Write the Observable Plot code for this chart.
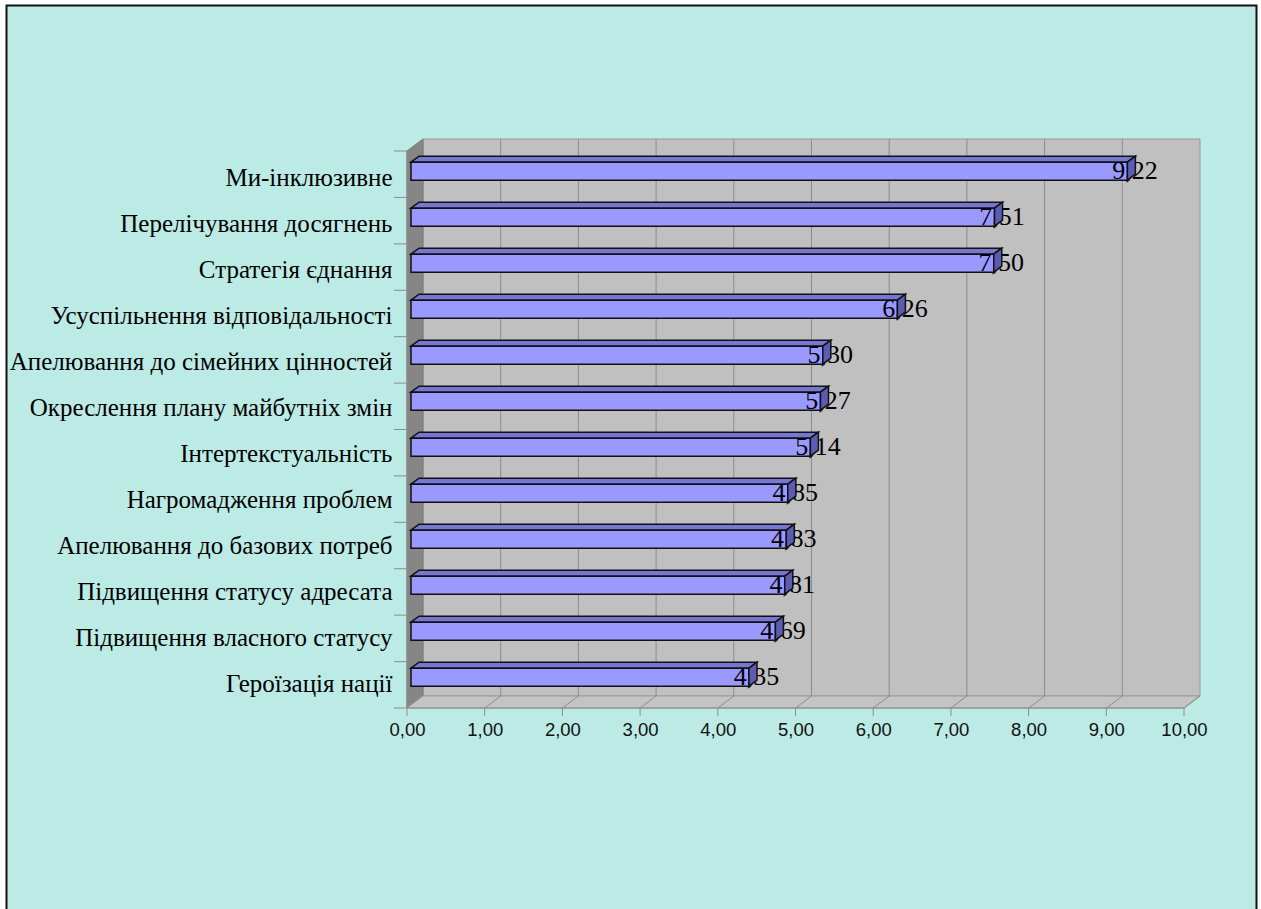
<!DOCTYPE html>
<html>
<head>
<meta charset="utf-8">
<script src="https://cdn.jsdelivr.net/npm/d3@7"></script>
<script src="https://cdn.jsdelivr.net/npm/@observablehq/plot@0.6"></script>
<style>
  html, body { margin: 0; padding: 0; background: #ffffff; }
  #chart svg { display: block; }
</style>
</head>
<body>
<div id="chart"></div>
<script>
const categories = [
  "Ми-інклюзивне",
  "Перелічування досягнень",
  "Стратегія єднання",
  "Усуспільнення відповідальності",
  "Апелювання до сімейних цінностей",
  "Окреслення плану майбутніх змін",
  "Інтертекстуальність",
  "Нагромадження проблем",
  "Апелювання до базових потреб",
  "Підвищення статусу адресата",
  "Підвищення власного статусу",
  "Героїзація нації"
];
const values = [9.22, 7.51, 7.50, 6.26, 5.30, 5.27, 5.14, 4.85, 4.83, 4.81, 4.69, 4.35];
const xTicks = [0, 1, 2, 3, 4, 5, 6, 7, 8, 9, 10];

const data = categories.map((c, i) => ({category: c, value: values[i]}));
const fmt = v => v.toFixed(2).replace(".", ",");

// depth offsets (pixels) for the pseudo-3D look
const WDX = 16, WDY = -12;      // back wall
const BFX = 4, BFY = -3;        // bar front face
const BDX = 8, BDY = -6;        // bar depth
const BAR_H = 18;

function poly(g, pts, fill, stroke, sw) {
  g.append("polygon")
    .attr("points", pts.map(p => p.join(",")).join(" "))
    .attr("fill", fill)
    .attr("stroke", stroke || "none")
    .attr("stroke-width", sw || 1)
    .attr("stroke-linejoin", "miter");
}

// band geometry derived from the y scale
function bandInfo(scales, dim) {
  const top = dim.marginTop;
  const bot = dim.height - dim.marginBottom;
  const bw = (bot - top) / categories.length;
  const shift = scales.y(categories[0]) - top; // 0 if scale returns band start
  const center = c => scales.y(c) - shift + bw / 2;
  return {top, bot, bw, center};
}

// background, frame, walls, floor
function backdrop(index, scales, values, dim) {
  const g = d3.create("svg:g");
  const {top, bot, bw} = bandInfo(scales, dim);
  const xa = scales.x(0), xb = scales.x(10);
  g.append("rect").attr("x", 0).attr("y", 0).attr("width", dim.width).attr("height", dim.height).attr("fill", "#ffffff");
  g.append("rect").attr("x", 6.5).attr("y", 5.5).attr("width", 1250).attr("height", dim.height + 10)
    .attr("fill", "#bceae4").attr("stroke", "#111").attr("stroke-width", 2);
  // back wall
  poly(g, [[xa + WDX, top + WDY], [xb + WDX, top + WDY], [xb + WDX, bot + WDY], [xa + WDX, bot + WDY]], "#c0c0c0", "#9a9a9a", 1);
  // side wall
  poly(g, [[xa, top], [xa + WDX, top + WDY], [xa + WDX, bot + WDY], [xa, bot]], "#868686", "#7a7a7a", 1);
  // floor
  poly(g, [[xa, bot], [xa + WDX, bot + WDY], [xb + WDX, bot + WDY], [xb, bot]], "#c4c4c4", "#9a9a9a", 1);
  // gridlines on wall and floor
  for (const t of xTicks) {
    const x = scales.x(t);
    if (t > 0 && t < 10) {
      g.append("line").attr("x1", x + WDX).attr("x2", x + WDX).attr("y1", top + WDY).attr("y2", bot + WDY)
        .attr("stroke", "#8c8c8c").attr("stroke-width", 1);
    }
    if (t > 0) {
      g.append("line").attr("x1", x).attr("x2", x + WDX).attr("y1", bot).attr("y2", bot + WDY)
        .attr("stroke", "#8c8c8c").attr("stroke-width", 1);
    }
    // x tick marks
    g.append("line").attr("x1", x).attr("x2", x).attr("y1", bot).attr("y2", bot + 8)
      .attr("stroke", "#8c8c8c").attr("stroke-width", 1);
  }
  // axis lines
  g.append("line").attr("x1", xa).attr("x2", xb).attr("y1", bot).attr("y2", bot).attr("stroke", "#8c8c8c");
  g.append("line").attr("x1", xa).attr("x2", xa).attr("y1", top).attr("y2", bot).attr("stroke", "#8c8c8c");
  // y tick marks at band boundaries
  for (let i = 0; i <= categories.length; i++) {
    const y = top + i * bw;
    g.append("line").attr("x1", xa - 13).attr("x2", xa).attr("y1", y).attr("y2", y)
      .attr("stroke", "#8c8c8c").attr("stroke-width", 1);
  }
  return g.node();
}

// bar front and top faces
function barsBody(index, scales, values, dim) {
  const g = d3.create("svg:g");
  const {center} = bandInfo(scales, dim);
  for (const d of data) {
    const c = center(d.category) + BFY;
    const y1 = c - BAR_H / 2, y2 = c + BAR_H / 2;
    const x0 = scales.x(0) + BFX, x1 = scales.x(d.value) + BFX;
    poly(g, [[x0, y1], [x0 + BDX, y1 + BDY], [x1 + BDX, y1 + BDY], [x1, y1]], "#7676d4", "#111", 1.5);
    poly(g, [[x0, y1], [x1, y1], [x1, y2], [x0, y2]], "#9999ff", "#111", 1.5);
  }
  return g.node();
}

// bar end faces (drawn over the value labels, as in the original)
function barsEnd(index, scales, values, dim) {
  const g = d3.create("svg:g");
  const {center} = bandInfo(scales, dim);
  for (const d of data) {
    const c = center(d.category) + BFY;
    const y1 = c - BAR_H / 2, y2 = c + BAR_H / 2;
    const x1 = scales.x(d.value) + BFX;
    poly(g, [[x1, y1], [x1 + BDX, y1 + BDY], [x1 + BDX, y2 + BDY], [x1, y2]], "#5c5cb4", "#111", 1.5);
  }
  return g.node();
}

const chart = Plot.plot({
  width: 1261,
  height: 909,
  marginLeft: 407,
  marginRight: 77,
  marginTop: 151,
  marginBottom: 201,
  x: {domain: [0, 10], axis: null},
  y: {type: "band", domain: categories, padding: 0, axis: null},
  style: {background: "#ffffff", overflow: "visible"},
  marks: [
    backdrop,
    barsBody,
    Plot.text(data, {
      x: "value", y: "category", text: d => fmt(d.value),
      dx: 11, dy: -7, textAnchor: "middle",
      fontFamily: "Liberation Serif, Times New Roman, serif", fontSize: 26, fill: "#000"
    }),
    barsEnd,
    Plot.text(data, {
      x: () => 0, y: "category", text: "category",
      dx: -15, dy: 0, textAnchor: "end",
      fontFamily: "Liberation Serif, Times New Roman, serif", fontSize: 25, fill: "#000"
    }),
    Plot.text(xTicks, {
      x: d => d, frameAnchor: "bottom", text: d => fmt(d),
      dy: 27, textAnchor: "middle",
      fontFamily: "Liberation Sans, Arial, sans-serif", fontSize: 18.5, fill: "#111"
    })
  ]
});
document.getElementById("chart").appendChild(chart);
</script>
</body>
</html>
